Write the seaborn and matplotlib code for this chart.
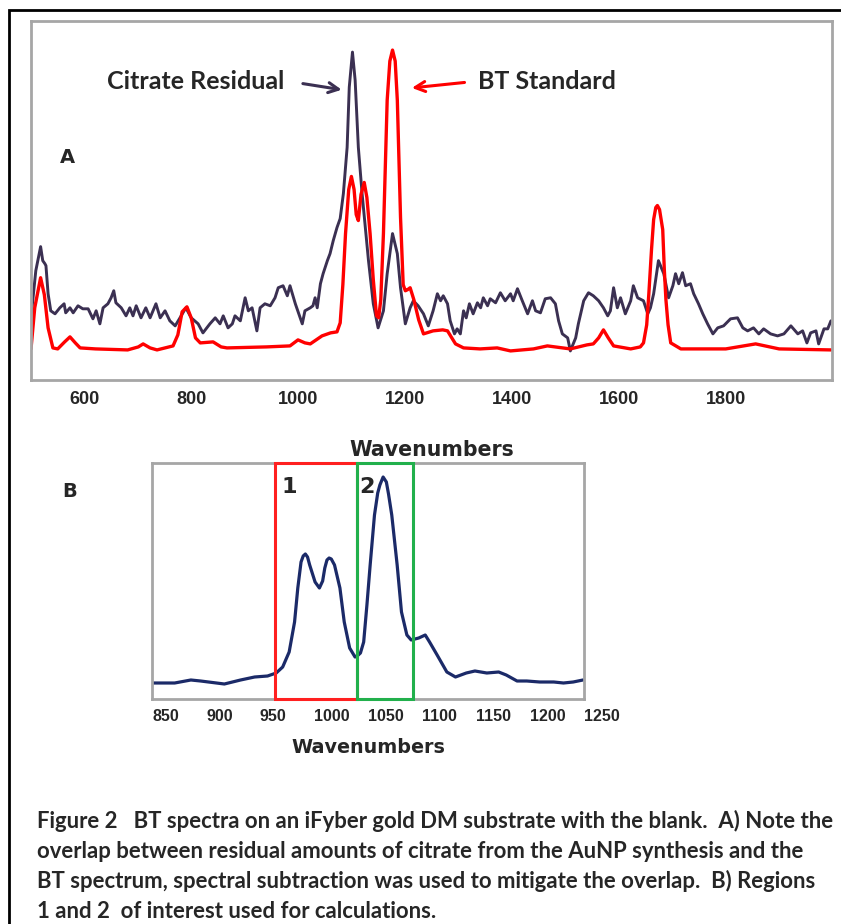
import matplotlib
matplotlib.use("Agg")
import matplotlib.pyplot as plt
import seaborn as sns
from matplotlib.patches import Rectangle

# ---- panel A: BT standard (red) ----
bt_wn = [499, 506, 517, 524, 531, 540, 549, 562, 572, 582, 591, 620, 680, 700, 709, 722, 735,
         765, 774, 782, 791, 799, 807, 816, 840, 855, 866, 940, 984, 999, 1012, 1022, 1044,
         1060, 1072, 1078, 1083, 1088, 1094, 1099, 1104, 1108, 1112, 1117, 1123, 1128, 1134,
         1140, 1146, 1150, 1154, 1159, 1166, 1171, 1176, 1181, 1185, 1191, 1196, 1200, 1204,
         1209, 1216, 1225, 1234, 1252, 1270, 1279, 1287, 1294, 1309, 1340, 1372, 1397, 1440,
         1466, 1509, 1540, 1552, 1562, 1571, 1580, 1590, 1622, 1640, 1646, 1652, 1656, 1661,
         1665, 1669, 1672, 1676, 1682, 1685, 1688, 1692, 1697, 1716, 1800, 1856, 1900, 1997]
bt_int = [31, 72, 102, 85, 52, 32, 31, 38, 43, 37, 32, 31, 30, 33, 36, 32, 30,
          34, 45, 68, 73, 62, 42, 37, 38, 33, 32, 33, 34, 40, 37, 36, 44,
          47, 48, 57, 95, 146, 190, 203, 190, 165, 159, 185, 197, 182, 146,
          100, 64, 62, 80, 146, 279, 318, 329, 318, 279, 162, 95, 89, 90,
          92, 80, 60, 46, 49, 50, 49, 42, 36, 32, 31, 32, 29, 31,
          34, 31, 35, 36, 42, 50, 42, 34, 31, 33, 37, 55, 86, 130,
          160, 172, 174, 170, 150, 110, 80, 55, 37, 31, 31, 36, 31, 30]

# ---- panel A: citrate residual (dark purple) ----
cit_wn = [499, 508, 517, 521, 525, 527, 531, 536, 544, 553, 561, 564, 572, 578, 587, 596, 606,
          615, 621, 628, 634, 643, 649, 654, 658, 668, 677, 684, 690, 696, 705, 714, 722, 733,
          741, 750, 759, 769, 778, 789, 799, 812, 821, 834, 844, 853, 859, 868, 876, 881, 891,
          900, 906, 913, 922, 928, 937, 947, 956, 962, 971, 979, 984, 994, 1007, 1012, 1022,
          1027, 1031, 1035, 1041, 1046, 1054, 1059, 1065, 1072, 1078, 1084, 1091, 1095, 1101,
          1106, 1112, 1119, 1125, 1131, 1140, 1149, 1159, 1166, 1176, 1185, 1191, 1200, 1209,
          1215, 1224, 1234, 1243, 1252, 1260, 1266, 1271, 1279, 1284, 1292, 1297, 1303, 1309,
          1314, 1320, 1327, 1335, 1341, 1346, 1354, 1359, 1369, 1378, 1387, 1397, 1402, 1410,
          1419, 1429, 1438, 1444, 1453, 1462, 1472, 1481, 1487, 1494, 1504, 1509, 1519, 1524,
          1534, 1543, 1552, 1562, 1571, 1579, 1584, 1590, 1597, 1603, 1612, 1622, 1627, 1635,
          1646, 1654, 1659, 1665, 1674, 1684, 1693, 1701, 1706, 1712, 1719, 1725, 1734, 1740,
          1749, 1757, 1766, 1776, 1785, 1796, 1809, 1822, 1832, 1841, 1852, 1862, 1871, 1884,
          1897, 1909, 1922, 1935, 1944, 1952, 1959, 1969, 1974, 1984, 1991, 1997]
cit_int = [62, 109, 133, 119, 116, 114, 86, 69, 66, 72, 76, 67, 72, 67, 74, 71, 71,
           61, 69, 56, 72, 76, 82, 89, 77, 72, 64, 72, 64, 74, 62, 72, 62, 76,
           62, 69, 59, 54, 62, 72, 62, 56, 47, 56, 62, 56, 64, 52, 56, 64, 59,
           82, 69, 72, 49, 72, 76, 74, 82, 92, 94, 84, 94, 76, 56, 69, 72,
           74, 82, 72, 96, 106, 119, 126, 139, 152, 161, 186, 232, 292, 327,
           299, 232, 186, 152, 119, 76, 52, 69, 106, 146, 126, 92, 56, 72,
           79, 74, 66, 54, 69, 86, 79, 84, 76, 59, 46, 51, 46, 69,
           62, 76, 66, 77, 72, 82, 74, 81, 77, 87, 79, 86, 79, 91,
           79, 66, 79, 69, 67, 81, 82, 76, 59, 46, 42, 29, 42, 56,
           79, 87, 84, 79, 72, 64, 69, 92, 72, 82, 66, 79, 94, 82,
           79, 66, 72, 86, 119, 106, 82, 94, 106, 96, 107, 94, 96, 86,
           76, 66, 56, 46, 52, 54, 61, 62, 52, 49, 52, 46, 51, 46,
           44, 46, 54, 46, 49, 37, 47, 49, 36, 51, 51, 59]

top_ticks = [600, 800, 1000, 1200, 1400, 1600, 1800]

# ---- panel B: subtracted spectrum ----
sub_wn = [851, 871, 886, 895, 917, 932, 945, 957, 965, 971, 977, 982, 985, 988, 990, 992, 994,
          996, 1001, 1005, 1008, 1010, 1012, 1014, 1016, 1019, 1024, 1028, 1033, 1038, 1041,
          1043, 1046, 1049, 1052, 1056, 1059, 1061, 1064, 1067, 1069, 1072, 1077, 1081, 1086,
          1090, 1097, 1103, 1107, 1114, 1123, 1131, 1141, 1149, 1160, 1171, 1178, 1188, 1197,
          1209, 1222, 1231, 1240, 1249]
sub_int = [16, 16, 19, 18, 15, 19, 22, 23, 26, 32, 47, 77, 111, 137, 143, 145, 142,
           134, 117, 111, 118, 131, 139, 141, 140, 134, 111, 77, 51, 42, 44,
           46, 57, 94, 134, 184, 206, 214, 222, 217, 205, 184, 134, 87, 64,
           59, 61, 64, 57, 44, 27, 22, 26, 28, 26, 27, 24, 18, 18,
           17, 17, 16, 17, 19]
bottom_ticks = [850, 900, 950, 1000, 1050, 1100, 1150, 1200, 1250]
region1 = (964, 1040)
region2 = (1040, 1092)

caption_lines = [
    "Figure 2   BT spectra on an iFyber gold DM substrate with the blank.  A) Note the",
    "overlap between residual amounts of citrate from the AuNP synthesis and the",
    "BT spectrum, spectral subtraction was used to mitigate the overlap.  B) Regions",
    "1 and 2  of interest used for calculations.",
]

sns.set_style("white")
plt.rcParams["font.family"] = ["Liberation Sans", "DejaVu Sans"]

W, H = 841, 924
fig = plt.figure(figsize=(W / 100, H / 100), dpi=100)

purple = "#3b3052"
red = "#ff0000"
navy = "#1b2a68"
frame = "#a6a6a6"

# top panel
axA = fig.add_axes([31 / W, 1 - 380 / H, 801 / W, 359 / H])
sns.lineplot(x=cit_wn, y=cit_int, ax=axA, color=purple, linewidth=2.1)
sns.lineplot(x=bt_wn, y=bt_int, ax=axA, color=red, linewidth=2.4)
axA.set_xlim(499, 1999)
axA.set_ylim(0, 358)
axA.set_yticks([])
axA.set_xticks(top_ticks)
axA.set_xticklabels([str(t) for t in top_ticks], fontweight="bold", fontsize=13)
axA.tick_params(axis="x", direction="out", length=4, color=frame, width=1.2, pad=4)
for s in axA.spines.values():
    s.set_color(frame)
    s.set_linewidth(2)
axA.set_xlabel("Wavenumbers", family="DejaVu Sans", fontweight="bold", fontsize=14.8,
               labelpad=23)

axA.text(808, 298, "Citrate Residual", ha="center", va="center",
         family=["Lato", "DejaVu Sans"], fontweight="bold", fontsize=18)
axA.annotate("", xy=(1086, 289), xytext=(1003, 296),
             arrowprops=dict(arrowstyle="->", color=purple, lw=2.2, mutation_scale=18))
axA.annotate("", xy=(1207, 291), xytext=(1316, 297),
             arrowprops=dict(arrowstyle="->", color=red, lw=2.2, mutation_scale=18))
axA.text(1337, 298, "BT Standard", ha="left", va="center",
         family=["Lato", "DejaVu Sans"], fontweight="bold", fontsize=18)
axA.text(568, 222, "A", ha="center", va="center", family="DejaVu Sans",
         fontweight="bold", fontsize=14)

# bottom panel
axB = fig.add_axes([152 / W, 1 - 699 / H, 432 / W, 236 / H])
axB.patch.set_alpha(0)
sns.lineplot(x=sub_wn, y=sub_int, ax=axB, color=navy, linewidth=2.3)
axB.set_xlim(850, 1250)
axB.set_ylim(0, 236)
axB.set_yticks([])
axB.set_xticks(bottom_ticks)
axB.set_xticklabels([str(t) for t in bottom_ticks], fontweight="bold", fontsize=11.5,
                    ha="left")
axB.tick_params(axis="x", direction="out", length=4, color=frame, width=1.2, pad=3)
for s in axB.spines.values():
    s.set_color(frame)
    s.set_linewidth(2)
axB.set_xlabel("Wavenumbers", family="DejaVu Sans", fontweight="bold", fontsize=13.8,
               labelpad=10)
axB.add_patch(Rectangle((region1[0], 0), region1[1] - region1[0], 236, fill=False,
                        edgecolor="#ff2020", linewidth=2.2, clip_on=False, zorder=3))
axB.add_patch(Rectangle((region2[0], 0), region2[1] - region2[0], 236, fill=False,
                        edgecolor="#22b04c", linewidth=2.2, clip_on=False, zorder=3))
axB.text(region1[0] + 6, 222, "1", ha="left", va="top", family="DejaVu Sans",
         fontweight="bold", fontsize=16)
axB.text(region2[0] + 2, 222, "2", ha="left", va="top", family="DejaVu Sans",
         fontweight="bold", fontsize=16)

fig.text(70 / W, 1 - 492 / H, "B", ha="center", va="center", family="DejaVu Sans",
         fontweight="bold", fontsize=14)

for i, line in enumerate(caption_lines):
    fig.text(37 / W, 1 - (821 + 30 * i) / H, line, ha="left", va="center",
             family=["Lato", "DejaVu Sans"], fontweight="bold", fontsize=15.9)

# outer border of the figure box
fig.patches.append(Rectangle((9 / W, -0.05), 1.2, 1 - 10 / H + 0.05, transform=fig.transFigure,
                             fill=False, edgecolor="black", linewidth=2))

fig.savefig("out.png", dpi=100)
